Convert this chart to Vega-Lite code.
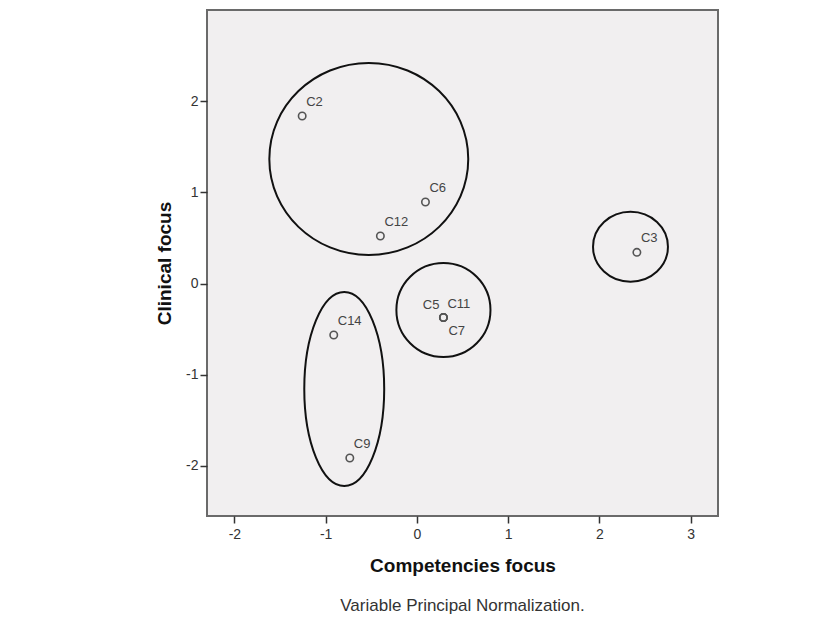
{
  "$schema": "https://vega.github.io/schema/vega-lite/v6.json",
  "width": 511,
  "height": 506,
  "autosize": {"type": "none"},
  "padding": {"left": 207, "top": 10, "right": 122, "bottom": 106},
  "background": "white",
  "config": {
    "font": "Liberation Sans",
    "view": {"fill": "#f1eff0", "stroke": "#6a6a6a", "strokeWidth": 2},
    "axis": {
      "grid": false,
      "domain": false,
      "tickColor": "#333333",
      "tickSize": 7,
      "tickWidth": 1.5,
      "labelColor": "#333333",
      "labelFont": "Liberation Sans",
      "labelFontSize": 14,
      "labelExpr": "datum.value + ''",
      "titleFont": "Liberation Sans",
      "titleFontSize": 19,
      "titleFontWeight": "bold",
      "titleColor": "#111111"
    }
  },
  "title": {
    "text": "Variable Principal Normalization.",
    "orient": "bottom",
    "anchor": "middle",
    "font": "Liberation Sans",
    "fontSize": 17,
    "fontWeight": "normal",
    "color": "#333333",
    "offset": 23
  },
  "datasets": {
    "points": [
      {"label": "C2", "x": -1.257, "y": 1.837},
      {"label": "C6", "x": 0.094, "y": 0.894},
      {"label": "C12", "x": -0.400, "y": 0.521},
      {"label": "C5", "x": 0.291, "y": -0.373},
      {"label": "C11", "x": 0.291, "y": -0.373},
      {"label": "C7", "x": 0.291, "y": -0.373},
      {"label": "C14", "x": -0.911, "y": -0.565},
      {"label": "C9", "x": -0.735, "y": -1.914},
      {"label": "C3", "x": 2.411, "y": 0.342}
    ],
    "clusters": [
      {"id": "A", "cx": -0.527, "cy": 1.366, "ry": 1.053},
      {"id": "B", "cx": 0.291, "cy": -0.291, "ry": 0.516},
      {"id": "C", "cx": 2.341, "cy": 0.404, "ry": 0.384},
      {"id": "D", "cx": -0.796, "cy": -1.157, "ry": 1.064}
    ]
  },
  "layer": [
    {
      "data": {"name": "clusters"},
      "mark": {"type": "point", "filled": false, "stroke": "#111111", "strokeWidth": 2, "opacity": 1},
      "encoding": {
        "x": {
          "field": "cx", "type": "quantitative",
          "scale": {"domain": [-2.3, 3.3], "nice": false, "zero": false},
          "axis": {"values": [-2, -1, 0, 1, 2, 3], "title": "Competencies focus", "titlePadding": 15, "labelPadding": 4}
        },
        "y": {
          "field": "cy", "type": "quantitative",
          "scale": {"domain": [-2.55, 3.0], "nice": false, "zero": false},
          "axis": {"values": [-2, -1, 0, 1, 2], "title": "Clinical focus", "titlePadding": 11, "labelPadding": 2}
        },
        "size": {
          "field": "ry", "type": "quantitative",
          "scale": {"type": "pow", "exponent": 2, "domain": [0, 1], "range": [0, 33248]},
          "legend": null
        },
        "shape": {
          "field": "id", "type": "nominal",
          "scale": {
            "domain": ["A", "B", "C", "D"],
            "range": [
              "M-1.036,0A1.036,1,0,1,0,1.036,0A1.036,1,0,1,0,-1.036,0Z",
              "M-1,0A1,1,0,1,0,1,0A1,1,0,1,0,-1,0Z",
              "M-1.07,0A1.07,1,0,1,0,1.07,0A1.07,1,0,1,0,-1.07,0Z",
              "M-0.412,0A0.412,1,0,1,0,0.412,0A0.412,1,0,1,0,-0.412,0Z"
            ]
          },
          "legend": null
        }
      }
    },
    {
      "data": {"name": "points"},
      "mark": {"type": "point", "shape": "circle", "filled": false, "stroke": "#555555", "strokeWidth": 1.6, "size": 55, "opacity": 1},
      "encoding": {
        "x": {"field": "x", "type": "quantitative"},
        "y": {"field": "y", "type": "quantitative"}
      }
    },
    {
      "data": {"name": "points"},
      "transform": [{"filter": "datum.label !== 'C5' && datum.label !== 'C7'"}],
      "mark": {"type": "text", "align": "left", "baseline": "middle", "dx": 4, "dy": -14, "fontSize": 13, "font": "Liberation Sans", "color": "#444444"},
      "encoding": {
        "x": {"field": "x", "type": "quantitative"},
        "y": {"field": "y", "type": "quantitative"},
        "text": {"field": "label"}
      }
    },
    {
      "data": {"name": "points"},
      "transform": [{"filter": "datum.label === 'C5'"}],
      "mark": {"type": "text", "align": "right", "baseline": "middle", "dx": -4, "dy": -13, "fontSize": 13, "font": "Liberation Sans", "color": "#444444"},
      "encoding": {
        "x": {"field": "x", "type": "quantitative"},
        "y": {"field": "y", "type": "quantitative"},
        "text": {"field": "label"}
      }
    },
    {
      "data": {"name": "points"},
      "transform": [{"filter": "datum.label === 'C7'"}],
      "mark": {"type": "text", "align": "left", "baseline": "middle", "dx": 5, "dy": 13, "fontSize": 13, "font": "Liberation Sans", "color": "#444444"},
      "encoding": {
        "x": {"field": "x", "type": "quantitative"},
        "y": {"field": "y", "type": "quantitative"},
        "text": {"field": "label"}
      }
    }
  ]
}
